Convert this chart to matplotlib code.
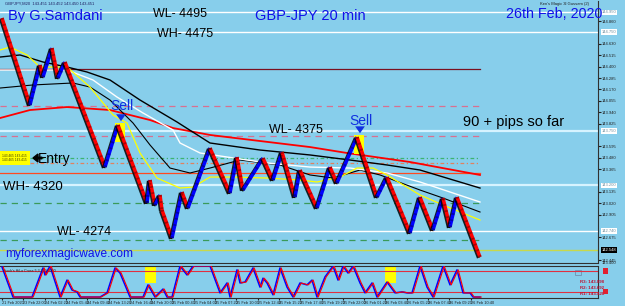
import numpy as np
import matplotlib
matplotlib.use('Agg')
import matplotlib.pyplot as plt
import matplotlib.patheffects as pe
import matplotlib.transforms as mtransforms
from matplotlib.patches import Rectangle

plt.rcParams['font.family'] = ['Liberation Sans', 'DejaVu Sans']

SKY = '#87CEEB'
W, H = 625, 306

# renko zigzag pivots (bar position, price)
renko_x = [2, 30, 40, 43, 52, 58, 65, 105, 118, 147, 150, 155, 160, 162, 172, 182, 188,
           210, 230, 237, 243, 263, 273, 282, 295, 300, 317, 330, 337, 357, 377, 387,
           410, 420, 433, 443, 450, 457, 480]
renko_p = [144.891, 144.013, 144.417, 144.295, 144.588, 144.285, 144.447, 143.386, 143.811,
           143.023, 143.255, 143.003, 143.104, 142.952, 142.669, 143.134, 142.972,
           143.578, 143.124, 143.487, 143.154, 143.477, 143.255, 143.538, 143.083, 143.356,
           142.972, 143.386, 143.225, 143.689, 143.083, 143.285,
           142.720, 143.083, 142.750, 143.073, 142.780, 143.083, 142.477]

# moving averages
ma_red_x = [0, 30, 67, 110, 150, 173, 210, 260, 310, 347, 410, 480]
ma_red_p = [143.881, 143.962, 143.992, 143.962, 143.861, 143.780, 143.710, 143.649,
            143.588, 143.528, 143.437, 143.306]
ma_slow_x = [0, 20, 43, 67, 87, 110, 140, 177, 210, 260, 310, 350, 387, 420, 480]
ma_slow_p = [144.497, 144.518, 144.447, 144.396, 144.346, 144.265, 144.063, 143.841,
             143.629, 143.558, 143.508, 143.457, 143.407, 143.356, 143.174]
ma_fast_x = [0, 33, 73, 90, 110, 133, 150, 170, 190, 210, 240, 280, 310, 333, 360, 380,
             420, 443, 480]
ma_fast_p = [144.184, 144.215, 144.235, 144.194, 144.063, 143.831, 143.609, 143.376,
             143.326, 143.376, 143.457, 143.407, 143.306, 143.275, 143.356, 143.306,
             143.154, 143.073, 142.932]
ma_white_x = [0, 67, 93, 117, 143, 173, 180, 200, 267, 310, 350, 387, 420, 480]
ma_white_p = [144.366, 144.366, 144.265, 144.093, 143.932, 143.760, 143.629, 143.528,
              143.427, 143.386, 143.376, 143.326, 143.235, 143.033]
ma_yellow_x = [0, 10, 27, 40, 67, 90, 113, 127, 140, 157, 180, 193, 210, 233, 267, 300,
               317, 340, 357, 373, 387, 400, 420, 443, 480]
ma_yellow_p = [144.568, 144.598, 144.518, 144.396, 144.396, 144.194, 143.912, 143.831,
               143.528, 143.275, 143.174, 143.184, 143.285, 143.285, 143.275, 143.255,
               143.235, 143.285, 143.376, 143.376, 143.306, 143.225, 143.104, 143.003,
               142.851]

# horizontal levels
full_levels = [144.95, 144.75, 143.75, 143.20, 142.74, 142.548]
part_levels = [144.376, 144.003, 143.70, 143.48, 143.43, 143.326, 143.023, 142.649]

# oscillator (0-100)
osc_x = [2, 13, 32, 43, 45, 50, 60, 67, 72, 77, 80, 100, 107, 115, 120, 130, 143, 148,
         155, 163, 167, 172, 180, 187, 193, 210, 220, 227, 230, 237, 240, 245, 253, 260,
         263, 267, 273, 280, 287, 293, 300, 307, 312, 317, 325, 333, 338, 343, 348, 353,
         360, 365, 372, 377, 387, 395, 402, 407, 412, 420, 427, 433, 443, 450, 457, 463,
         470, 473, 480]
osc_v = [97, 3, 3, 94, 72, 100, 3, 56, 25, 19, 3, 3, 16, 94, 78, 3, 3, 41,
         3, 28, 3, 3, 100, 72, 100, 100, 16, 47, 3, 88, 47, 50, 94, 34,
         62, 47, 10, 94, 34, 3, 47, 41, 56, 3, 66, 100, 56, 100, 78, 100,
         47, 16, 47, 3, 50, 16, 19, 16, 16, 100, 34, 3, 100, 41, 88, 16,
         16, 3, 3]
osc_levels = [85, 20]
signal_x = [145, 385]

time_labels = ["21 Feb 2020", "23 Feb 22:00", "24 Feb 02:20", "24 Feb 05:40", "24 Feb 09:40",
               "24 Feb 13:20", "24 Feb 16:40", "24 Feb 20:00", "25 Feb 00:40", "25 Feb 04:00",
               "25 Feb 07:20", "25 Feb 10:00", "25 Feb 12:40", "25 Feb 15:20", "25 Feb 17:40",
               "25 Feb 19:20", "25 Feb 22:00", "26 Feb 01:20", "26 Feb 03:40", "26 Feb 05:20",
               "26 Feb 07:40", "26 Feb 09:20", "26 Feb 10:40"]

fig = plt.figure(figsize=(W / 100, H / 100), dpi=100, facecolor=SKY)
ax = fig.add_axes([0, 43 / H, 598 / W, 262 / H], facecolor=SKY)
ax2 = fig.add_axes([0, 8 / H, 598 / W, 32 / H], facecolor=SKY)

XMAX = 598
ax.set_xlim(0, XMAX)
ax.set_ylim(142.417, 145.063)

# levels
full_colors = ['white', 'white', '#d6f3ff', '#d6f3ff', 'white', '#c8d84a']
full_lw = [1.0, 1.0, 1.6, 1.6, 1.0, 1.0]
for p, c, lw in zip(full_levels, full_colors, full_lw):
    ax.axhline(p, color=c, lw=lw, zorder=2)
part_styles = [('#7a1020', '-'), ('#d87090', (0, (5, 4))), ('#d87090', (0, (5, 4))),
               ('#3cb371', (0, (3, 2, 1, 2))), ('#e08060', (0, (3, 2, 1, 2))),
               ('#ff4a20', '-'), ('#3a9a5a', (0, (5, 4))), ('#3a9a5a', (0, (5, 4)))]
for p, (c, ls) in zip(part_levels, part_styles):
    ax.plot([0, 480], [p, p], color=c, ls=ls, lw=0.9, zorder=2)

# moving averages
ax.plot(ma_red_x, ma_red_p, color='red', lw=1.3, zorder=3)
ax.plot(ma_slow_x, ma_slow_p, color='black', lw=1.0, zorder=3)
ax.plot(ma_fast_x, ma_fast_p, color='black', lw=0.8, zorder=3)
ax.plot(ma_white_x, ma_white_p, color='white', lw=1.0, zorder=3)
ax.plot(ma_yellow_x, ma_yellow_p, color='yellow', lw=0.9, zorder=3)

# sell highlight boxes
for i in [8, 29]:
    ax.add_patch(Rectangle((renko_x[i] - 3, renko_p[i] - 0.17), 10, 0.19,
                           color='yellow', zorder=4, lw=0))

# renko bricks
for i in range(len(renko_x) - 1):
    up = renko_p[i + 1] > renko_p[i]
    xs, ps = renko_x[i:i + 2], renko_p[i:i + 2]
    ax.plot(xs, ps, color='blue' if up else 'red', lw=2.5, solid_capstyle='butt', zorder=5,
            path_effects=[pe.SimpleLineShadow(offset=(-1.0, -0.6), shadow_color='black', alpha=0.85),
                          pe.Normal()])
    ax.plot(xs, ps, color='black', lw=2.5, dashes=(0.5, 1.3), alpha=0.3, zorder=6,
            solid_capstyle='butt')

# sell arrows
for i, dy in [(8, 0.15), (29, 0.12)]:
    x, p = renko_x[i] + 3, renko_p[i]
    ax.annotate('', xy=(x, p + 0.01), xytext=(x, p + dy - 0.02),
                arrowprops=dict(arrowstyle='simple,head_width=0.7,head_length=0.5,tail_width=0.2',
                                color='#1030e0', lw=0), zorder=7)
    ax.text(x + 1, p + dy, 'Sell', color='#1030e0', fontsize=10, ha='center', va='baseline', zorder=7)

# axis, skipping tick labels hidden under the level labels
ticks = np.round(np.arange(142.445, 145.06, 0.115), 3)
ticks = [t for t in ticks if min(abs(t - p) for p in full_levels) > 0.06]
ax.yaxis.tick_right()
ax.set_yticks(ticks)
ax.yaxis.set_major_formatter(matplotlib.ticker.FormatStrFormatter('%.3f'))
ax.tick_params(axis='y', labelsize=3, length=2, pad=1, colors='#202020')
ax.set_xticks([])
for s in ['left', 'top']:
    ax.spines[s].set_visible(False)
for s in ['right', 'bottom']:
    ax.spines[s].set_color('#303030')
    ax.spines[s].set_linewidth(0.8)
for p, c in zip(full_levels, full_colors):
    dark = c.startswith('#c8')
    ax.annotate(f'{p:.3f}', xy=(1.006, p), xycoords=('axes fraction', 'data'), fontsize=3,
                va='center', color='white' if dark else '#7090a0', zorder=8,
                bbox=dict(boxstyle='square,pad=0.15', fc='black' if dark else 'white', ec='none'))

# texts
def ftext(x, y, s, **kw):
    fig.text(x / W, 1 - y / H, s, va='baseline', **kw)

ftext(5, 5, 'GBPJPY,M20  143.451 143.452 143.450 143.451', fontsize=3, color='#202060')
ftext(540, 5, "Ken's Magic 3l Gussam (2)", fontsize=3, color='#202020')
ftext(8, 20, 'By G.Samdani', fontsize=10.5, color='#1010e8')
ftext(255, 19.5, 'GBP-JPY 20 min', fontsize=10.5, color='#1010e8')
ftext(506, 18, '26th Feb, 2020', fontsize=10.3, color='#1010e8')
ftext(153, 17, 'WL- 4495', fontsize=9, color='black')
ftext(157, 37, 'WH- 4475', fontsize=9, color='black')
ftext(269, 133, 'WL- 4375', fontsize=9, color='black')
ftext(463, 126, '90 + pips so far', fontsize=10.5, color='black')
ftext(38, 163, 'Entry', fontsize=10, color='black')
ftext(3, 190, 'WH- 4320', fontsize=9.5, color='black')
ftext(57, 235, 'WL- 4274', fontsize=9, color='black')
ftext(5, 257, 'myforexmagicwave.com', fontsize=8.6, color='#1010e8')
fig.text(2 / W, 1 - 158 / H, '143.465 143.415\n143.465 143.415', fontsize=2.3, color='#404000',
         va='center', linespacing=1.0,
         bbox=dict(boxstyle='square,pad=0.9', fc='yellow', ec='none'))
fig.patches.append(matplotlib.patches.FancyArrow(42 / W, 1 - 158 / H, -9 / W, 0, width=1.5 / H,
                                                 head_width=8 / H, head_length=5 / W,
                                                 length_includes_head=True, color='black',
                                                 transform=fig.transFigure, figure=fig))

# oscillator
ax2.set_xlim(0, XMAX)
ax2.set_ylim(0, 100)
for x in signal_x:
    ax2.add_patch(Rectangle((x, 47), 11, 53, color='yellow', lw=0, zorder=1))
for v in osc_levels:
    ax2.axhline(v, color='#e03040', lw=0.8, zorder=2)
shift = mtransforms.offset_copy(ax2.transData, fig=fig, x=1.2, y=0, units='dots')
ax2.plot(osc_x, osc_v, color='blue', lw=1.1, zorder=3)
ax2.plot(osc_x, osc_v, color='red', lw=0.8, zorder=4, transform=shift)
ax2.text(3, 92, "Stoch's HiLo Cross 5,3,3  0.0000", fontsize=2.6, color='#202020', va='top')
for k, (lbl, c) in enumerate([('R3: 143.898', '#c01030'), ('R2: 143.692', '#c01030'),
                              ('R1: 143.428', '#c01030')]):
    ax2.text(580, 50 - k * 19, lbl, fontsize=3.2, color=c, va='center', fontweight='bold')
ax2.add_patch(Rectangle((575, 72), 6, 16, fc='none', ec='#7090b0', lw=0.6))
ax2.set_yticks([])
ax2.set_xticks(np.arange(len(time_labels)) * 21.3 + 2)
ax2.set_xticklabels(time_labels, ha='left')
ax2.tick_params(axis='x', labelsize=2.8, length=1.5, pad=0.8, colors='#202020')
ax2.spines['left'].set_visible(False)
for s in ['right', 'top', 'bottom']:
    ax2.spines[s].set_color('#303030')
    ax2.spines[s].set_linewidth(0.8)
for v in osc_levels:
    ax2.annotate('   ', xy=(1.01, v), xycoords=('axes fraction', 'data'), fontsize=3, va='center',
                 bbox=dict(boxstyle='square,pad=0.2', fc='#e02030', ec='none'))
ax2.annotate('143.400', xy=(1.006, 1.02), xycoords='axes fraction', fontsize=3, va='bottom',
             color='#202020')

plt.savefig('out.png', dpi=100, facecolor=SKY)
plt.close()
